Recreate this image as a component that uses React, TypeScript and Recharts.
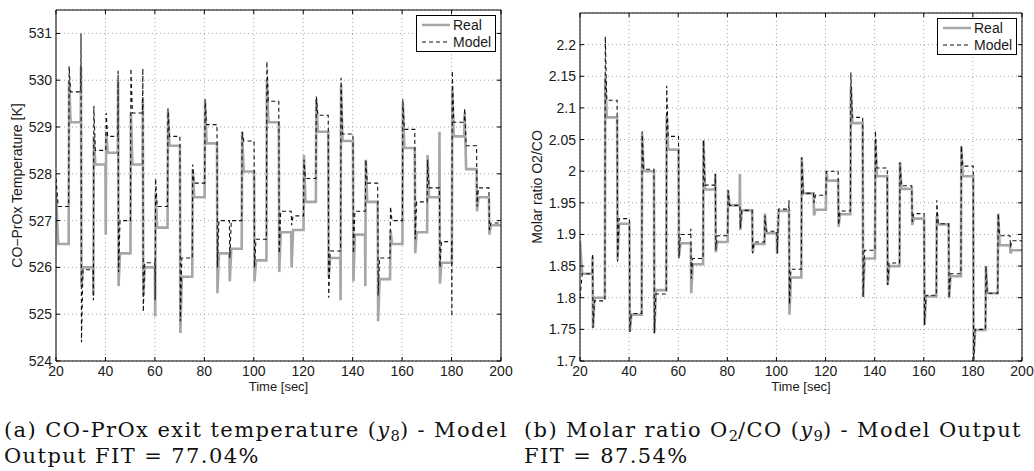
import React from "react";
import { LineChart, Line, XAxis, YAxis, CartesianGrid, Legend, Label } from "recharts";

// 5 s step segments (start time of each step)
const segStart = [
  20, 25, 30, 35, 40, 45, 50, 55, 60, 65, 70, 75, 80, 85, 90, 95, 100, 105,
  110, 115, 120, 125, 130, 135, 140, 145, 150, 155, 160, 165, 170, 175, 180, 185, 190, 195,
];
const timeTicks = [20, 40, 60, 80, 100, 120, 140, 160, 180, 200];
const tempTicks = [524, 525, 526, 527, 528, 529, 530, 531];
const ratioTicks = [1.7, 1.75, 1.8, 1.85, 1.9, 1.95, 2, 2.05, 2.1, 2.15, 2.2];

// (a) CO-PrOx exit temperature [K]
const tempRealLevel = [
  526.5, 529.1, 526.0, 528.2, 528.45, 526.3, 528.2, 526.0, 526.85, 528.6, 525.8, 527.5,
  528.65, 526.3, 526.4, 528.05, 526.15, 529.1, 526.75, 526.8, 527.4, 528.9, 526.2, 528.7,
  526.7, 527.4, 525.75, 526.5, 528.55, 526.75, 527.5, 526.1, 528.8, 528.1, 527.5, 526.9,
];
const tempModelLevel = [
  527.3, 529.75, 525.95, 528.5, 528.8, 527.0, 529.3, 526.1, 527.3, 528.8, 526.2, 527.8,
  529.05, 527.0, 527.0, 528.7, 526.6, 529.55, 527.2, 527.1, 527.9, 529.25, 526.35, 528.85,
  527.2, 527.8, 526.2, 527.0, 528.95, 527.4, 527.7, 526.55, 529.1, 528.6, 527.7, 526.95,
];
const tempRealPeak = [
  527.6, 530.0, 525.6, 528.8, 528.9, 525.6, 529.3, 525.4, 527.6, 529.35, 524.6, 528.1,
  529.55, 525.45, 525.7, 528.9, 525.7, 530.0, 525.9, 526.0, 528.4, 529.6, 525.8, 529.9,
  525.7, 528.3, 524.85, 526.8, 529.5, 526.3, 528.4, 525.65, 529.8, 529.3, 527.2, 526.7,
];
const tempModelPeak = [
  527.9, 530.3, 524.4, 529.45, 529.3, 525.9, 530.25, 525.05, 527.9, 529.4, 524.85, 528.2,
  529.6, 526.0, 526.2, 528.9, 526.0, 530.4, 526.3, 526.9, 528.3, 529.65, 525.35, 530.05,
  526.3, 528.3, 525.4, 527.3, 529.6, 526.6, 528.3, 526.0, 530.2, 529.4, 527.3, 526.8,
];
const tempRealPre = [
  null, null, 530.3, 525.4, 526.7, 530.0, null, 529.6, 524.95, null, null, null,
  null, null, null, null, null, null, null, null, null, null, null, 525.3,
  null, 525.6, null, null, null, null, null, 528.9, null, null, null, null,
];
const tempModelPre = [
  null, null, 531.0, 525.3, null, 530.2, null, 530.25, 525.3, null, null, null,
  null, null, null, null, null, null, null, null, null, null, null, null,
  null, null, null, null, null, null, null, null, 524.95, null, null, null,
];

// (b) Molar ratio O2/CO
const ratioRealLevel = [
  1.838, 1.8, 2.085, 1.917, 1.773, 2.0, 1.812, 2.034, 1.886, 1.853, 1.971, 1.888,
  1.946, 1.938, 1.885, 1.902, 1.937, 1.832, 1.965, 1.939, 1.985, 1.932, 2.076, 1.862,
  1.992, 1.85, 1.972, 1.925, 1.802, 1.916, 1.834, 1.992, 1.749, 1.807, 1.883, 1.875,
];
const ratioModelLevel = [
  1.838, 1.795, 2.112, 1.925, 1.775, 2.003, 1.806, 2.055, 1.9, 1.862, 1.978, 1.898,
  1.946, 1.938, 1.888, 1.905, 1.94, 1.845, 1.965, 1.962, 2.0, 1.937, 2.085, 1.875,
  2.005, 1.855, 1.977, 1.933, 1.804, 1.917, 1.838, 2.008, 1.75, 1.807, 1.898, 1.89,
];
const ratioRealPeak = [
  1.89, 1.752, 2.148, 1.86, 1.746, 2.06, 1.744, 2.088, 1.865, 1.807, 2.049, 1.872,
  1.97, 1.907, 1.872, 1.933, 1.87, 1.773, 2.022, 1.93, 2.0, 1.912, 2.133, 1.801,
  2.05, 1.82, 2.014, 1.915, 1.757, 1.93, 1.799, 2.04, 1.71, 1.85, 1.933, 1.87,
];
const ratioModelPeak = [
  1.8, 1.752, 2.213, 1.857, 1.746, 2.063, 1.744, 2.135, 1.862, 1.83, 2.049, 1.875,
  1.97, 1.91, 1.87, 1.93, 1.87, 1.79, 2.022, 1.95, 2.0, 1.915, 2.156, 1.801,
  2.064, 1.82, 2.014, 1.92, 1.757, 1.954, 1.8, 2.04, 1.69, 1.85, 1.933, 1.88,
];
const ratioRealPre = [
  null, 1.865, null, null, null, null, null, null, null, null, null, 1.996,
  null, 1.996, null, null, null, null, null, null, null, null, null, null,
  null, null, null, null, null, null, null, null, null, null, null, null,
];
const ratioModelPre = [
  null, 1.87, null, null, null, null, null, null, null, 1.909, null, 1.996,
  null, null, null, null, null, 1.954, null, null, null, null, null, null,
  null, null, null, null, null, null, null, null, null, null, null, null,
];

type Row = { t: number; real: number; model: number };

const buildRows = (
  lvR: number[],
  lvM: number[],
  pkR: number[],
  pkM: number[],
  preR: (number | null)[],
  preM: (number | null)[]
): Row[] => {
  const rows: Row[] = [];
  segStart.forEach((T, i) => {
    if (i === 0) {
      rows.push({ t: T, real: pkR[0], model: pkM[0] });
    } else {
      rows.push({ t: T, real: lvR[i - 1], model: lvM[i - 1] });
      rows.push({ t: T + 0.12, real: preR[i] ?? lvR[i - 1], model: preM[i] ?? lvM[i - 1] });
      rows.push({ t: T + 0.3, real: pkR[i], model: pkM[i] });
    }
    rows.push({ t: T + 0.9, real: lvR[i], model: lvM[i] });
  });
  const last = segStart.length - 1;
  rows.push({ t: 200, real: lvR[last], model: lvM[last] });
  return rows;
};

const tempRows = buildRows(tempRealLevel, tempModelLevel, tempRealPeak, tempModelPeak, tempRealPre, tempModelPre);
const ratioRows = buildRows(ratioRealLevel, ratioModelLevel, ratioRealPeak, ratioModelPeak, ratioRealPre, ratioModelPre);

const FONT = "'Liberation Sans', Arial, Helvetica, sans-serif";
const TEXT = "#1a1a1a";
const GRAY = "#a6a6a6";
const TICK = 4;

const BottomTick = (p: any) => (
  <g>
    <line x1={p.x} x2={p.x} y1={p.y} y2={p.y - TICK} stroke="#000" />
    <text x={p.x} y={p.y + 15} textAnchor="middle" fontSize={14} fontFamily={FONT} fill={TEXT}>
      {p.payload.value}
    </text>
  </g>
);
const TopTick = (p: any) => <line x1={p.x} x2={p.x} y1={p.y} y2={p.y + TICK} stroke="#000" />;
const LeftTick = (p: any) => (
  <g>
    <line x1={p.x} x2={p.x + TICK} y1={p.y} y2={p.y} stroke="#000" />
    <text x={p.x - 4} y={p.y + 5} textAnchor="end" fontSize={14} fontFamily={FONT} fill={TEXT}>
      {p.payload.value}
    </text>
  </g>
);
const RightTick = (p: any) => <line x1={p.x} x2={p.x - TICK} y1={p.y} y2={p.y} stroke="#000" />;

const LegendBox = () => (
  <svg width={80} height={37} style={{ display: "block" }}>
    <rect x={0.5} y={0.5} width={79} height={36} fill="#fff" stroke="#000" />
    <line x1={6} x2={34} y1={10} y2={10} stroke={GRAY} strokeWidth={2.5} />
    <text x={37} y={15} fontSize={14} fontFamily={FONT} fill={TEXT}>Real</text>
    <line x1={6} x2={34} y1={27} y2={27} stroke="#111" strokeWidth={1.2} strokeDasharray="4 3" />
    <text x={37} y={32} fontSize={14} fontFamily={FONT} fill={TEXT}>Model</text>
  </svg>
);

type Frame = { top: number; right: number; bottom: number; left: number };

type PanelProps = {
  rows: Row[];
  yDomain: [number, number];
  yTicks: number[];
  yLabel: string;
  left: number;
  width: number;
  frame: Frame;
};

const Panel = ({ rows, yDomain, yTicks, yLabel, left, width, frame }: PanelProps) => (
  <div style={{ position: "absolute", left, top: 0 }}>
    <LineChart width={width} height={400} data={rows} margin={{ top: 0, right: 0, bottom: 0, left: 0 }}>
      <CartesianGrid stroke="#8a8a8a" strokeDasharray="1 3" strokeWidth={0.8} />
      <XAxis
        dataKey="t"
        type="number"
        domain={[20, 200]}
        ticks={timeTicks}
        interval={0}
        height={frame.bottom}
        tickSize={0}
        tickMargin={0}
        tickLine={false}
        axisLine={{ stroke: "#000" }}
        tick={(p: any) => <BottomTick {...p} />}
        allowDataOverflow
      >
        <Label
          content={(p: any) => (
            <text
              x={p.viewBox.x + p.viewBox.width / 2}
              y={p.viewBox.y + 30}
              textAnchor="middle"
              fontSize={13}
              fontFamily={FONT}
              fill={TEXT}
            >
              Time [sec]
            </text>
          )}
        />
      </XAxis>
      <XAxis
        xAxisId="top"
        orientation="top"
        dataKey="t"
        type="number"
        domain={[20, 200]}
        ticks={timeTicks}
        interval={0}
        height={frame.top}
        tickSize={0}
        tickMargin={0}
        tickLine={false}
        axisLine={{ stroke: "#000" }}
        tick={(p: any) => <TopTick {...p} />}
        allowDataOverflow
      />
      <YAxis
        type="number"
        domain={yDomain}
        ticks={yTicks}
        interval={0}
        width={frame.left}
        tickSize={0}
        tickMargin={0}
        tickLine={false}
        axisLine={{ stroke: "#000" }}
        tick={(p: any) => <LeftTick {...p} />}
        allowDataOverflow
      >
        <Label
          content={(p: any) => {
            const cx = p.viewBox.x + 17;
            const cy = p.viewBox.y + p.viewBox.height / 2;
            return (
              <text
                x={cx}
                y={cy}
                transform={`rotate(-90 ${cx} ${cy})`}
                textAnchor="middle"
                dominantBaseline="central"
                fontSize={14}
                fontFamily={FONT}
                fill={TEXT}
              >
                {yLabel}
              </text>
            );
          }}
        />
      </YAxis>
      <YAxis
        yAxisId="right"
        orientation="right"
        type="number"
        domain={yDomain}
        ticks={yTicks}
        interval={0}
        width={frame.right}
        tickSize={0}
        tickMargin={0}
        tickLine={false}
        axisLine={{ stroke: "#000" }}
        tick={(p: any) => <RightTick {...p} />}
        allowDataOverflow
      />
      <Line
        name="Real"
        type="linear"
        dataKey="real"
        stroke={GRAY}
        strokeWidth={2.6}
        dot={false}
        activeDot={false}
        isAnimationActive={false}
      />
      <Line
        name="Model"
        type="linear"
        dataKey="model"
        stroke="#111"
        strokeWidth={1.1}
        strokeDasharray="4 3"
        dot={false}
        activeDot={false}
        isAnimationActive={false}
      />
      <Legend
        layout="vertical"
        align="center"
        verticalAlign="middle"
        wrapperStyle={{ left: width - frame.right - 85, top: frame.top + 5, width: 80, height: 37 }}
        content={() => <LegendBox />}
      />
    </LineChart>
  </div>
);

const SERIF = "'DejaVu Serif', 'Liberation Serif', serif";
const sub = { fontSize: "0.7em", verticalAlign: "-0.3em", lineHeight: 0, letterSpacing: 0 } as const;

const Caption = ({ left, children }: { left: number; children: React.ReactNode }) => (
  <div
    style={{
      position: "absolute",
      left,
      top: 417,
      width: 515,
      fontFamily: SERIF,
      fontSize: 21,
      letterSpacing: "1.4px",
      lineHeight: "26px",
      color: "#111",
      whiteSpace: "nowrap",
    }}
  >
    {children}
  </div>
);

export default function App() {
  return (
    <div style={{ position: "absolute", left: 0, top: 0, width: 1034, height: 471, background: "#fff" }}>
      <Panel
        rows={tempRows}
        yDomain={[524, 531.5]}
        yTicks={tempTicks}
        yLabel="CO−PrOx Temperature [K]"
        left={0}
        width={520}
        frame={{ top: 10, right: 19, bottom: 39, left: 56 }}
      />
      <Panel
        rows={ratioRows}
        yDomain={[1.7, 2.25]}
        yTicks={ratioTicks}
        yLabel="Molar ratio O2/CO"
        left={520}
        width={514}
        frame={{ top: 13, right: 12, bottom: 39, left: 60 }}
      />
      <Caption left={4}>
        (a) CO-PrOx exit temperature (<i>y</i>
        <span style={sub}>8</span>) - Model
        <br />
        Output FIT = 77.04%
      </Caption>
      <Caption left={524}>
        (b) Molar ratio O<span style={sub}>2</span>/CO (<i>y</i>
        <span style={sub}>9</span>) - Model Output
        <br />
        FIT = 87.54%
      </Caption>
    </div>
  );
}
